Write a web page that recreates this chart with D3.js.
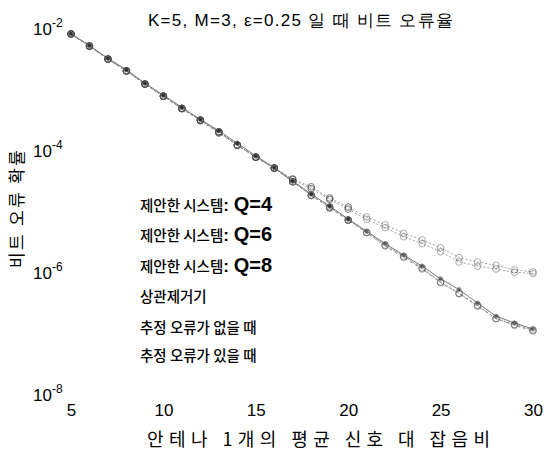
<!DOCTYPE html>
<html><head><meta charset="utf-8">
<script src="https://cdn.jsdelivr.net/npm/d3@7/dist/d3.min.js"></script>
<style>body{margin:0;background:#fff}svg{display:block}</style>
</head><body>
<svg id="c" width="560" height="450"></svg>
<script>
const snr = [5,6,7,8,9,10,11,12,13,14,15,16,17,18,19,20,21,22,23,24,25,26,27,28,29,30];
const xTicks = [5,10,15,20,25,30];
const yTicks = [1e-2,1e-4,1e-6,1e-8];
const yTickExp = ["-2","-4","-6","-8"];
const seriesNames = ["제안한 시스템: Q=4","제안한 시스템: Q=6","제안한 시스템: Q=8","상관제거기","추정 오류가 없을 때","추정 오류가 있을 때"];
const berQ4 = [9.3e-3,5.9e-3,3.6e-3,2.3e-3,1.4e-3,8.9e-4,5.6e-4,3.6e-4,2.3e-4,1.4e-4,8.9e-5,5.9e-5,3.8e-5,2.7e-5,1.8e-5,1.25e-5,8.5e-6,6.2e-6,4.4e-6,3.4e-6,2.5e-6,1.7e-6,1.45e-6,1.3e-6,1.15e-6,1.1e-6];
const berQ6 = [9.3e-3,5.9e-3,3.6e-3,2.3e-3,1.4e-3,8.9e-4,5.6e-4,3.6e-4,2.3e-4,1.4e-4,8.9e-5,5.9e-5,3.5e-5,2.1e-5,1.35e-5,8.3e-6,5.2e-6,3.2e-6,2.1e-6,1.35e-6,7.9e-7,5.2e-7,3.3e-7,2.0e-7,1.6e-7,1.3e-7];
const berQ8 = [9.2e-3,5.8e-3,3.6e-3,2.3e-3,1.4e-3,8.8e-4,5.5e-4,3.5e-4,2.2e-4,1.4e-4,8.8e-5,5.8e-5,3.5e-5,2.1e-5,1.3e-5,8.2e-6,5.1e-6,3.1e-6,2.0e-6,1.3e-6,7.8e-7,5.1e-7,3.2e-7,2.0e-7,1.55e-7,1.25e-7];
const berDecorr = [9.4e-3,6.0e-3,3.7e-3,2.4e-3,1.45e-3,9.2e-4,5.8e-4,3.7e-4,2.4e-4,1.5e-4,9.3e-5,6.0e-5,3.6e-5,2.2e-5,1.4e-5,8.6e-6,5.4e-6,3.4e-6,2.2e-6,1.45e-6,9.0e-7,6.0e-7,3.6e-7,2.2e-7,1.7e-7,1.35e-7];
const berNoErr = [9.3e-3,5.9e-3,3.6e-3,2.3e-3,1.4e-3,8.9e-4,5.6e-4,3.6e-4,2.3e-4,1.4e-4,8.9e-5,5.9e-5,3.5e-5,2.1e-5,1.35e-5,8.3e-6,5.2e-6,3.2e-6,2.1e-6,1.35e-6,7.9e-7,5.2e-7,3.3e-7,2.0e-7,1.6e-7,1.3e-7];
const berErr = [9.3e-3,5.9e-3,3.6e-3,2.3e-3,1.4e-3,8.9e-4,5.6e-4,3.6e-4,2.3e-4,1.4e-4,8.9e-5,5.9e-5,3.9e-5,2.9e-5,1.9e-5,1.35e-5,9.3e-6,6.9e-6,5.0e-6,3.9e-6,2.9e-6,2.0e-6,1.7e-6,1.5e-6,1.26e-6,1.17e-6];
const seriesValues = [berQ4,berQ6,berQ8,berDecorr,berNoErr,berErr];
const seriesFill = ["none","none","none","#222","none","none"];
const seriesDash = ["2,2","2,2","3,3","none","2,3","2,2"];

const svg = d3.select("#c");
const x = d3.scaleLinear().domain([5,30]).range([71,533]);
const y = d3.scaleLog().domain([1e-8,1e-2]).range([398,32]);
const num = "'Liberation Sans', Arial, sans-serif";
const kr = "'Noto Sans CJK KR', sans-serif";

// X axis (axis line and ticks are not visible in the reference)
const xa = svg.append("g").attr("transform","translate(0,398)")
  .call(d3.axisBottom(x).tickValues(xTicks).tickSize(0).tickPadding(4).tickFormat(d3.format("d")));
xa.select(".domain").remove();
xa.selectAll("text").attr("font-family",num).attr("font-size",17).attr("fill","#000").attr("dy","0.85em");

// Y axis
const ya = svg.append("g").attr("transform","translate(56,0)")
  .call(d3.axisLeft(y).tickValues(yTicks).tickSize(0).tickPadding(0).tickFormat(""));
ya.select(".domain").remove();
ya.selectAll(".tick").each(function(d,i){
  const t = d3.select(this).append("text").attr("font-family",num).attr("fill","#000")
    .attr("text-anchor","start").attr("x",-23).attr("y",2);
  t.append("tspan").attr("font-size",17).text("10");
  t.append("tspan").attr("font-size",12).attr("dy",-8).text(yTickExp[i]);
});

// lines and markers
const line = d3.line().x((d,i)=>x(snr[i])).y(d=>y(d));
seriesValues.forEach((vals,k)=>{
  svg.append("path").datum(vals).attr("d",line).attr("fill","none")
    .attr("stroke", k===3 ? "#555" : "#888").attr("stroke-width",0.8)
    .attr("stroke-dasharray", seriesDash[k]==="none"?null:seriesDash[k]);
});
seriesValues.forEach((vals,k)=>{
  svg.append("g").selectAll("circle").data(vals).join("circle")
    .attr("cx",(d,i)=>x(snr[i])).attr("cy",d=>y(d))
    .attr("r", k===3 ? 2.2 : 3.3)
    .attr("fill", seriesFill[k]).attr("stroke", k<3||k===5 ? "#444" : "#666")
    .attr("stroke-width",0.8)
    .attr("opacity",(d,i)=> snr[i] > 20 ? 0.55 : 0.9);
});

// Title
svg.append("text").attr("x",148).attr("y",26).attr("font-family",num).attr("font-size",17)
  .attr("textLength",305).attr("lengthAdjust","spacing").attr("fill","#000")
  .text("K=5, M=3, ε=0.25 일 때 비트 오류율");

// Axis labels
svg.append("text").attr("x",147).attr("y",446).attr("font-family",kr).attr("font-size",18)
  .attr("textLength",343).attr("lengthAdjust","spacing").attr("fill","#000")
  .text("안테나 1개의 평균 신호 대 잡음비");
svg.append("text").attr("transform","translate(23,268) rotate(-90)").attr("font-family",kr)
  .attr("font-size",17).attr("textLength",118).attr("lengthAdjust","spacing").attr("fill","#000")
  .text("비트 오류 확률");

// Legend (text only, as in the reference)
const legY = [205,235,266,296,327,355];
seriesNames.forEach((name,k)=>{
  const t = svg.append("text").attr("x",140).attr("y",legY[k]).attr("dy","0.35em").attr("fill","#000");
  const parts = name.split(": ");
  t.append("tspan").attr("font-family",kr).attr("font-size",14.5).attr("font-weight",500).text(parts[0]);
  if(parts.length>1){
    t.append("tspan").attr("font-family",num).attr("font-size",17).attr("font-weight","bold").text(": ");
    t.append("tspan").attr("font-family",num).attr("font-size",20).attr("font-weight","bold").text(parts[1]);
  }
});
</script>
</body></html>
